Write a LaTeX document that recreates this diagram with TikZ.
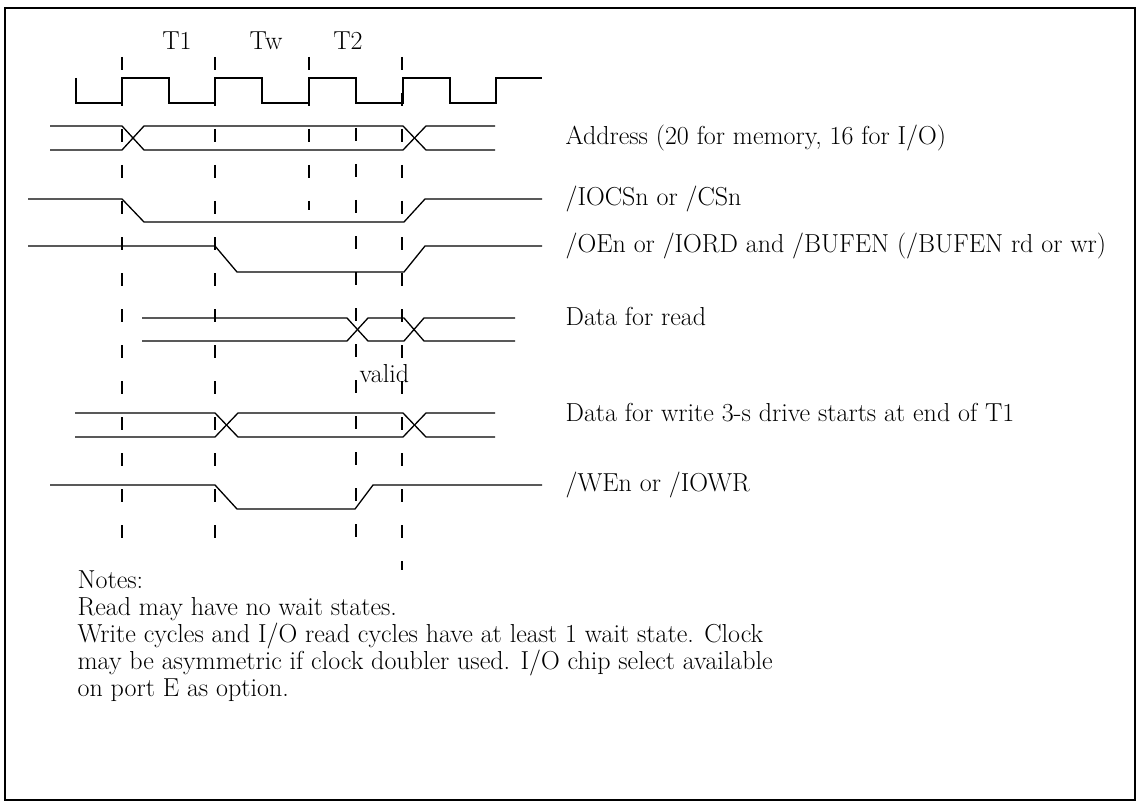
\documentclass[tikz,border=0pt]{standalone}
\begin{document}
\begin{tikzpicture}[x=1pt,y=-1pt,line width=1.3pt,
    guide/.style={line width=1.4pt,dash pattern=on 13pt off 23pt},
    lbl/.style={anchor=west,inner sep=0pt,font=\fontsize{26}{27}\selectfont}]
  \useasboundingbox (0,0) rectangle (1140,805);
  \draw[line width=1.2pt] (5,8) rectangle (1135,800);

  \node[lbl,anchor=center] (t1) at (177,41) {T1};
  \node[lbl,anchor=center] (tw) at (266,41) {Tw};
  \node[lbl,anchor=center] (t2) at (348,41) {T2};

  % dashed time marks
  \foreach \x/\a/\b in {122/57/540, 215/57/540, 309/57/210, 356/128/540, 402/57/570}
    \draw[guide] (\x,\a) -- (\x,\b);

  % clock
  \draw (76,78) -- (76,103)
    \foreach \r in {122,215,309,403} { -- (\r,103) -- (\r,78) -- (\r+47,78) -- (\r+47,103) }
    -- (496,103) -- (496,78) -- (542,78);

  % address
  \draw (50,126) -- (122,126) -- (144,150) -- (403,150) -- (426,126) -- (495,126);
  \draw (50,150) -- (122,150) -- (144,126) -- (403,126) -- (426,150) -- (495,150);
  \node[lbl] (addr) at (565,138) {Address (20 for memory, 16 for I/O)};

  % chip select
  \draw (28,199) -- (122,199) -- (144,222) -- (404,222) -- (425,199) -- (542,199);
  \node[lbl] (cs) at (565,199) {/IOCSn or /CSn};

  % output enable
  \draw (28,246) -- (215,246) -- (237,272) -- (404,272) -- (425,246) -- (542,246);
  \node[lbl] (oe) at (565,246) {/OEn or /IORD and /BUFEN (/BUFEN rd or wr)};

  % data for read
  \draw (142,318) -- (347,318) -- (368,341) -- (404,341) -- (424,318) -- (515,318);
  \draw (142,341) -- (347,341) -- (368,318) -- (404,318) -- (424,341) -- (515,341);
  \node[lbl] (rd) at (565,316) {Data for read};
  \node[lbl] (valid) at (359,374) {valid};

  % data for write
  \draw (75,413) -- (215,413) -- (238,437) -- (403,437) -- (426,413) -- (495,413);
  \draw (75,437) -- (215,437) -- (238,413) -- (403,413) -- (426,437) -- (495,437);
  \node[lbl] (wr) at (565,413) {Data for write 3-s drive starts at end of T1};

  % write enable
  \draw (50,485) -- (215,485) -- (237,509) -- (355,509) -- (373,485) -- (542,485);
  \node[lbl] (we) at (565,485) {/WEn or /IOWR};

  \node[lbl,anchor=north west,align=left] (notes) at (77,570) {Notes:\\
    Read may have no wait states.\\
    Write cycles and I/O read cycles have at least 1 wait state. Clock\\
    may be asymmetric if clock doubler used. I/O chip select available\\
    on port E as option.};
\end{tikzpicture}
\end{document}
